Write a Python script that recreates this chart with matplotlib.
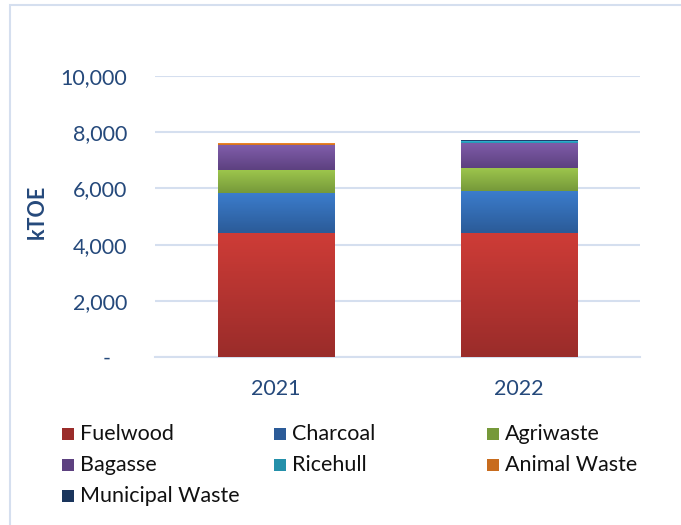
import matplotlib
matplotlib.use("Agg")
import matplotlib.pyplot as plt
import numpy as np
from matplotlib.patches import Rectangle
from matplotlib.colors import LinearSegmentedColormap
from matplotlib.ticker import FuncFormatter, MultipleLocator

plt.rcParams['font.family'] = ['Lato', 'DejaVu Sans']

years = ['2021', '2022']
series_names = ['Fuelwood', 'Charcoal', 'Agriwaste', 'Bagasse', 'Ricehull',
                'Animal Waste', 'Municipal Waste']
fuelwood = [4418, 4418]
charcoal = [1424, 1496]
agriwaste = [820, 819]
bagasse = [865, 891]
ricehull = [25, 65]
animal_waste = [55, 5]
municipal_waste = [25, 35]
values = [fuelwood, charcoal, agriwaste, bagasse, ricehull, animal_waste, municipal_waste]

# gradient colours (top, bottom)
grad = [('#CE3C37', '#9A2C2A'), ('#3C7DCD', '#2B5B98'), ('#9EC74D', '#76993A'),
        ('#805DAA', '#5D4180'), ('#31B6D7', '#2490AA'), ('#F68C2F', '#C86C1E'),
        ('#24497E', '#1A355C')]

W, H = 681, 525
fig = plt.figure(figsize=(W / 100, H / 100), dpi=100)
ax = fig.add_axes([155 / W, 1 - 357 / H, 485 / W, 281 / H])

x = np.arange(len(years))
bottom = np.zeros(len(years))
for vals, (ctop, cbot) in zip(values, grad):
    bc = ax.bar(x, vals, width=0.48, bottom=bottom, color=cbot, linewidth=0, zorder=3)
    cmap = LinearSegmentedColormap.from_list('g', [cbot, ctop])
    for p in bc.patches:
        x0, y0 = p.get_x(), p.get_y()
        w, h = p.get_width(), p.get_height()
        if h <= 0:
            continue
        gr = np.linspace(0, 1, 64).reshape(-1, 1)
        im = ax.imshow(gr, extent=[x0, x0 + w, y0, y0 + h], origin='lower',
                       aspect='auto', cmap=cmap, interpolation='bilinear', zorder=4)
        im.set_clip_path(p)
    bottom += np.array(vals)

ax.set_xlim(-0.5, len(years) - 0.5)
ax.set_ylim(0, 10000)
ax.set_xticks(x)
ax.set_xticklabels(years)
ax.yaxis.set_major_locator(MultipleLocator(2000))
ax.yaxis.set_major_formatter(FuncFormatter(lambda v, p: '-   ' if v == 0 else f'{v:,.0f}'))

tick_color = '#25497B'
ax.tick_params(axis='both', length=0, labelsize=15.5, colors=tick_color)
ax.tick_params(axis='y', pad=20)
ax.tick_params(axis='x', pad=16)
for s in ['top', 'right', 'left']:
    ax.spines[s].set_visible(False)
ax.spines['bottom'].set_color('#D5DFEF')
ax.spines['bottom'].set_linewidth(1.5)
ax.grid(axis='y', color='#D5DFEF', linewidth=1.5, zorder=0)
ax.set_axisbelow(True)

fig.text(37 / W, 1 - 212 / H, 'kTOE', rotation=90, ha='center', va='center',
         fontsize=15.5, fontweight='bold', color=tick_color)

# legend (manual, Excel-like fixed columns)
col_x = [62, 274, 487]
row_y = [434, 465, 496]
for i, (name, (ctop, cbot)) in enumerate(zip(series_names, grad)):
    r, c = divmod(i, 3)
    mx, my = col_x[c], row_y[r]
    fig.patches.append(Rectangle((mx / W, 1 - (my + 6) / H), 12 / W, 12 / H,
                                 transform=fig.transFigure, facecolor=cbot,
                                 edgecolor='none'))
    fig.text((mx + 18) / W, 1 - my / H, name, ha='left', va='center',
             fontsize=15.5, color='#111111')

# outer border
fig.patches.append(Rectangle((10 / W, -0.05), 1.0, 1 - 5 / H + 0.05,
                             transform=fig.transFigure, facecolor='none',
                             edgecolor='#D5DFEF', linewidth=1.5))

fig.savefig('out.png', dpi=100)
